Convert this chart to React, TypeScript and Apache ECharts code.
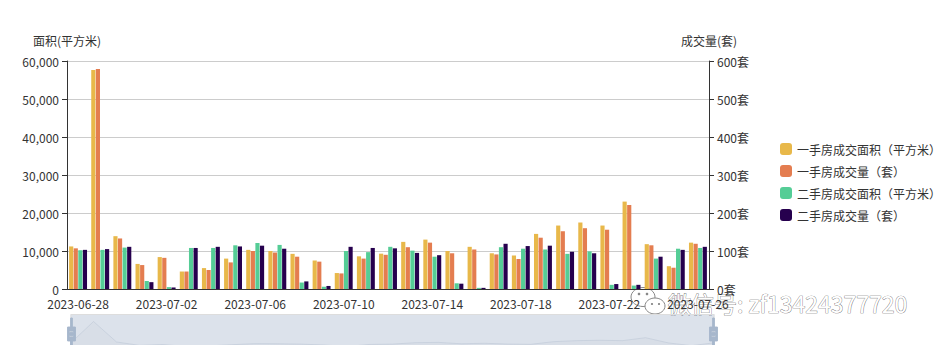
import React, { useEffect, useRef } from "react";
import * as echarts from "echarts";

const dates = [
  "2023-06-28", "2023-06-29", "2023-06-30", "2023-07-01", "2023-07-02", "2023-07-03", "2023-07-04",
  "2023-07-05", "2023-07-06", "2023-07-07", "2023-07-08", "2023-07-09", "2023-07-10", "2023-07-11",
  "2023-07-12", "2023-07-13", "2023-07-14", "2023-07-15", "2023-07-16", "2023-07-17", "2023-07-18",
  "2023-07-19", "2023-07-20", "2023-07-21", "2023-07-22", "2023-07-23", "2023-07-24", "2023-07-25",
  "2023-07-26",
];
const newArea = [11200, 57600, 13900, 6600, 8400, 4600, 5500, 8000, 10300, 10000, 9250, 7500, 4200, 8600, 9300, 12400, 13000, 10000, 11100, 9400, 8800, 14500, 16700, 17500, 16700, 23000, 11800, 6000, 12200];
const newCount = [107, 579, 133, 63, 82, 46, 50, 70, 100, 96, 85, 72, 41, 80, 90, 110, 122, 94, 104, 91, 79, 135, 152, 160, 156, 221, 115, 56, 119];
const oldArea = [10200, 10300, 10900, 2100, 500, 10800, 10800, 11500, 12100, 11600, 1700, 600, 10000, 9700, 11100, 10100, 8500, 1500, 300, 11000, 10600, 10400, 9250, 9900, 1100, 900, 8000, 10600, 10800];
const oldCount = [103, 105, 111, 18, 4, 108, 111, 112, 114, 106, 20, 8, 111, 108, 107, 95, 89, 14, 3, 119, 113, 114, 98, 94, 13, 11, 85, 103, 111];
const seriesNames = ["一手房成交面积（平方米）", "一手房成交量（套）", "二手房成交面积（平方米）", "二手房成交量（套）"];
const colors = ["#e8b84a", "#e47d50", "#55cd96", "#26004e"];

const FONT = "'Noto Sans CJK SC', 'Noto Sans', sans-serif";

export default function App() {
  const ref = useRef<HTMLDivElement>(null);
  useEffect(() => {
    document.body.style.margin = "0";
    const chart = echarts.init(ref.current!, null, { renderer: "svg" });
    const axisLabel = { color: "#333", fontSize: 12, fontFamily: FONT };
    chart.setOption({
      animation: false,
      color: colors,
      textStyle: { fontFamily: FONT },
      grid: { left: 67, right: 231, top: 61, bottom: 56 },
      legend: {
        orient: "vertical",
        left: 775,
        top: 138,
        itemWidth: 12,
        itemHeight: 12,
        itemGap: 10,
        icon: "roundRect",
        textStyle: { color: "#333", fontSize: 12, fontFamily: FONT },
        data: seriesNames,
      },
      xAxis: {
        type: "category",
        data: dates,
        axisLine: { lineStyle: { color: "#333" } },
        axisTick: { interval: 3 },
        axisLabel: { ...axisLabel, interval: 3 },
      },
      yAxis: [
        {
          type: "value",
          name: "面积(平方米)",
          nameTextStyle: { color: "#333", fontSize: 12, fontFamily: FONT },
          min: 0,
          max: 60000,
          interval: 10000,
          axisLine: { show: true, lineStyle: { color: "#333" } },
          axisTick: { show: true },
          axisLabel: { ...axisLabel, formatter: (v: number) => v.toLocaleString("en-US") },
          splitLine: { lineStyle: { color: "#ccc" } },
        },
        {
          type: "value",
          name: "成交量(套)",
          nameTextStyle: { color: "#333", fontSize: 12, fontFamily: FONT },
          min: 0,
          max: 600,
          interval: 100,
          axisLine: { show: true, lineStyle: { color: "#333" } },
          axisTick: { show: true },
          axisLabel: { ...axisLabel, formatter: "{value}套" },
          splitLine: { show: false },
        },
      ],
      dataZoom: [
        {
          type: "slider",
          xAxisIndex: 0,
          start: 0,
          end: 100,
          left: 68,
          right: 228,
          top: 314,
          height: 40,
          showDetail: false,
          brushSelect: false,
          moveHandleSize: 0,
          borderColor: "#ddd",
          backgroundColor: "rgba(47,69,84,0)",
          fillerColor: "rgba(167,183,204,0.4)",
          handleIcon:
            "path://M8.2,13.6V3.9H6.3v9.7H3.1v14.9h3.3v9.7h1.8v-9.7h3.3V13.6H8.2z M9.7,24.4H4.8v-1.4h4.9V24.4z M9.7,19.1H4.8v-1.4h4.9V19.1z",
          handleSize: "80%",
          handleStyle: { color: "#a7b7cc", borderColor: "#a7b7cc" },
          dataBackground: {
            lineStyle: { color: "#b8c2d0", width: 0.5, opacity: 0.8 },
            areaStyle: { color: "rgba(47,69,84,0.12)" },
          },
          selectedDataBackground: {
            lineStyle: { color: "#b8c2d0", width: 0.5, opacity: 0.8 },
            areaStyle: { color: "rgba(47,69,84,0.12)" },
          },
        },
      ],
      series: [
        { name: seriesNames[0], type: "bar", yAxisIndex: 0, data: newArea },
        { name: seriesNames[1], type: "bar", yAxisIndex: 1, data: newCount },
        { name: seriesNames[2], type: "bar", yAxisIndex: 0, data: oldArea },
        { name: seriesNames[3], type: "bar", yAxisIndex: 1, data: oldCount },
      ],
      graphic: [
        {
          type: "group",
          z: 100,
          children: [
            { type: "ellipse", shape: { cx: 643, cy: 297, rx: 12, ry: 9.5 }, style: { fill: "#fff", stroke: "#888", lineWidth: 1 } },
            { type: "ellipse", shape: { cx: 655, cy: 306, rx: 10, ry: 8 }, style: { fill: "#fff", stroke: "#888", lineWidth: 1 } },
            { type: "circle", shape: { cx: 639, cy: 294, r: 1.3 }, style: { fill: "#888" } },
            { type: "circle", shape: { cx: 647, cy: 294, r: 1.3 }, style: { fill: "#888" } },
            { type: "circle", shape: { cx: 652, cy: 304, r: 1.1 }, style: { fill: "#888" } },
            { type: "circle", shape: { cx: 659, cy: 304, r: 1.1 }, style: { fill: "#888" } },
            {
              type: "text",
              x: 668,
              y: 303,
              style: {
                text: "微信号: zf13424377720",
                fill: "#fff",
                stroke: "#666",
                lineWidth: 0.7,
                fontSize: 23,
                fontFamily: FONT,
                verticalAlign: "middle",
              },
            },
          ],
        },
      ],
    });
    return () => chart.dispose();
  }, []);
  return <div ref={ref} style={{ width: 940, height: 345 }} />;
}
